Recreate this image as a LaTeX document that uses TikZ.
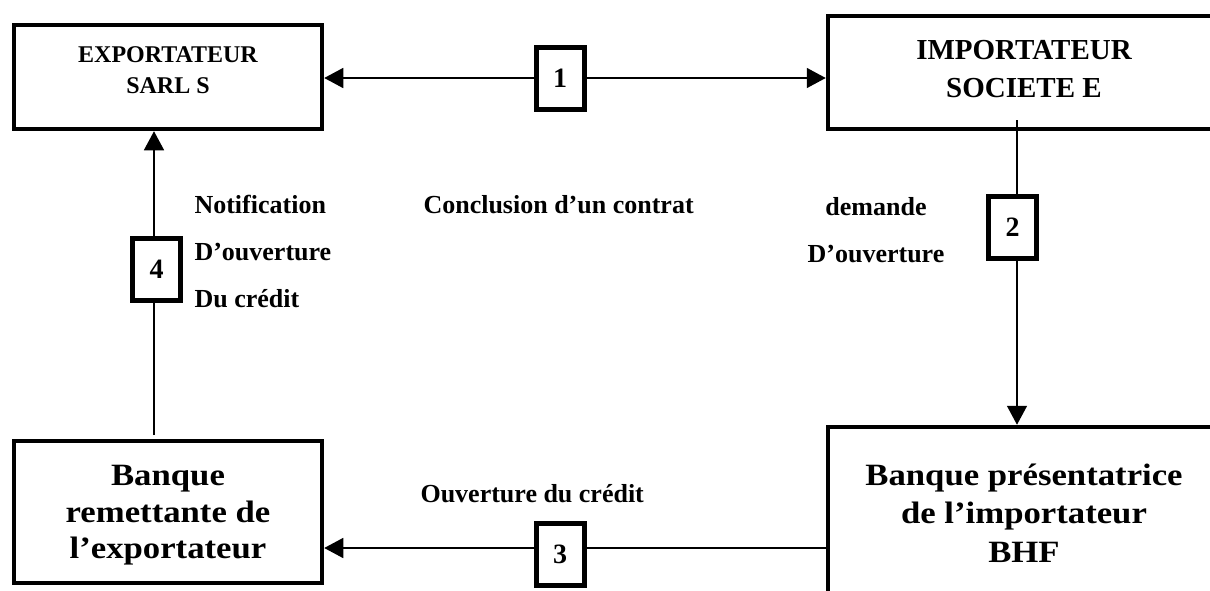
\documentclass[tikz,border=0pt]{standalone}
\usepackage{fontspec}
\setmainfont{Liberation Serif}
\newfontfamily\boxfont{Liberation Serif}[FakeStretch=1.12]
\usetikzlibrary{arrows.meta}
\begin{document}
\begin{tikzpicture}[x=1pt,y=-1pt,
  bigbox/.style={draw=black,line width=4.5pt,inner sep=0pt,minimum width=308pt},
  numbox/.style={draw=black,fill=white,line width=5pt,inner sep=0pt,minimum width=48pt,minimum height=62pt,
    font=\fontsize{28}{28}\selectfont\bfseries},
  conn/.style={line width=1.5pt},
  tip/.style={-{Triangle[length=19pt,width=20pt]}},
  lbl/.style={font=\fontsize{26}{26}\selectfont\bfseries},
  tA/.style={anchor=base,font=\fontsize{24}{24}\selectfont\bfseries},
  tB/.style={anchor=base,font=\fontsize{29}{29}\selectfont\bfseries},
  tC/.style={anchor=base,font=\boxfont\fontsize{31}{31}\selectfont\bfseries}]
\useasboundingbox (0,0) rectangle (1210,590);
\clip (0,0) rectangle (1210,590);
% main boxes
\node[bigbox,minimum height=104pt] (boxA) at (168,77) {};
\node[bigbox,minimum width=392pt,minimum height=113pt] (boxB) at (1024,72.5) {};
\node[bigbox,minimum height=142pt] (boxC) at (168,512) {};
\node[bigbox,minimum width=392pt,minimum height=242pt] (boxD) at (1024,548) {};
% box texts
\node[tA] (tA1) at (168,62) {EXPORTATEUR};
\node[tA] (tA2) at (168,93) {SARL S};
\node[tB] (tB1) at (1024,59) {IMPORTATEUR};
\node[tB] (tB2) at (1024,97) {SOCIETE E};
\node[tC] (tC1) at (168,485) {Banque};
\node[tC] (tC2) at (168,522) {remettante de};
\node[tC] (tC3) at (168,558) {l’exportateur};
\node[tC] (tD1) at (1024,485) {Banque présentatrice};
\node[tC] (tD2) at (1024,523) {de l’importateur};
\node[tC] (tD3) at (1024,562) {BHF};
% label boxes positions
\coordinate (p1) at (560,78);
\coordinate (s2) at (1017,120);
\coordinate (s4) at (154,435);
% connectors
\draw[conn,{Triangle[length=19pt,width=20pt]}-{Triangle[length=19pt,width=20pt]}] (p1 -| boxA.east) -- (p1 -| boxB.west);
\draw[conn,tip] (s2) -- (s2 |- boxD.north);
\draw[conn,tip] (boxD.west) -- (boxD.west -| boxC.east);
\draw[conn,tip] (s4) -- (s4 |- boxA.south);
% numbered boxes
\node[numbox] (lab1) at (p1) {1};
\node[numbox] (lab2) at (1012.5,227) {2};
\node[numbox] (lab3) at (560,554.5) {3};
\node[numbox] (lab4) at (156.5,269) {4};
% labels
\node[lbl,anchor=base west] (n1) at (191,213) {Notification};
\node[lbl,anchor=base west] (n2) at (191,260) {D’ouverture};
\node[lbl,anchor=base west] (n3) at (191,307) {Du crédit};
\node[lbl,anchor=base west] (c1) at (420,213) {Conclusion d’un contrat};
\node[lbl,anchor=base] (d1) at (876,215) {demande};
\node[lbl,anchor=base] (d2) at (876,262) {D’ouverture};
\node[lbl,anchor=base west] (o1) at (417,502) {Ouverture du crédit};
\end{tikzpicture}
\end{document}
